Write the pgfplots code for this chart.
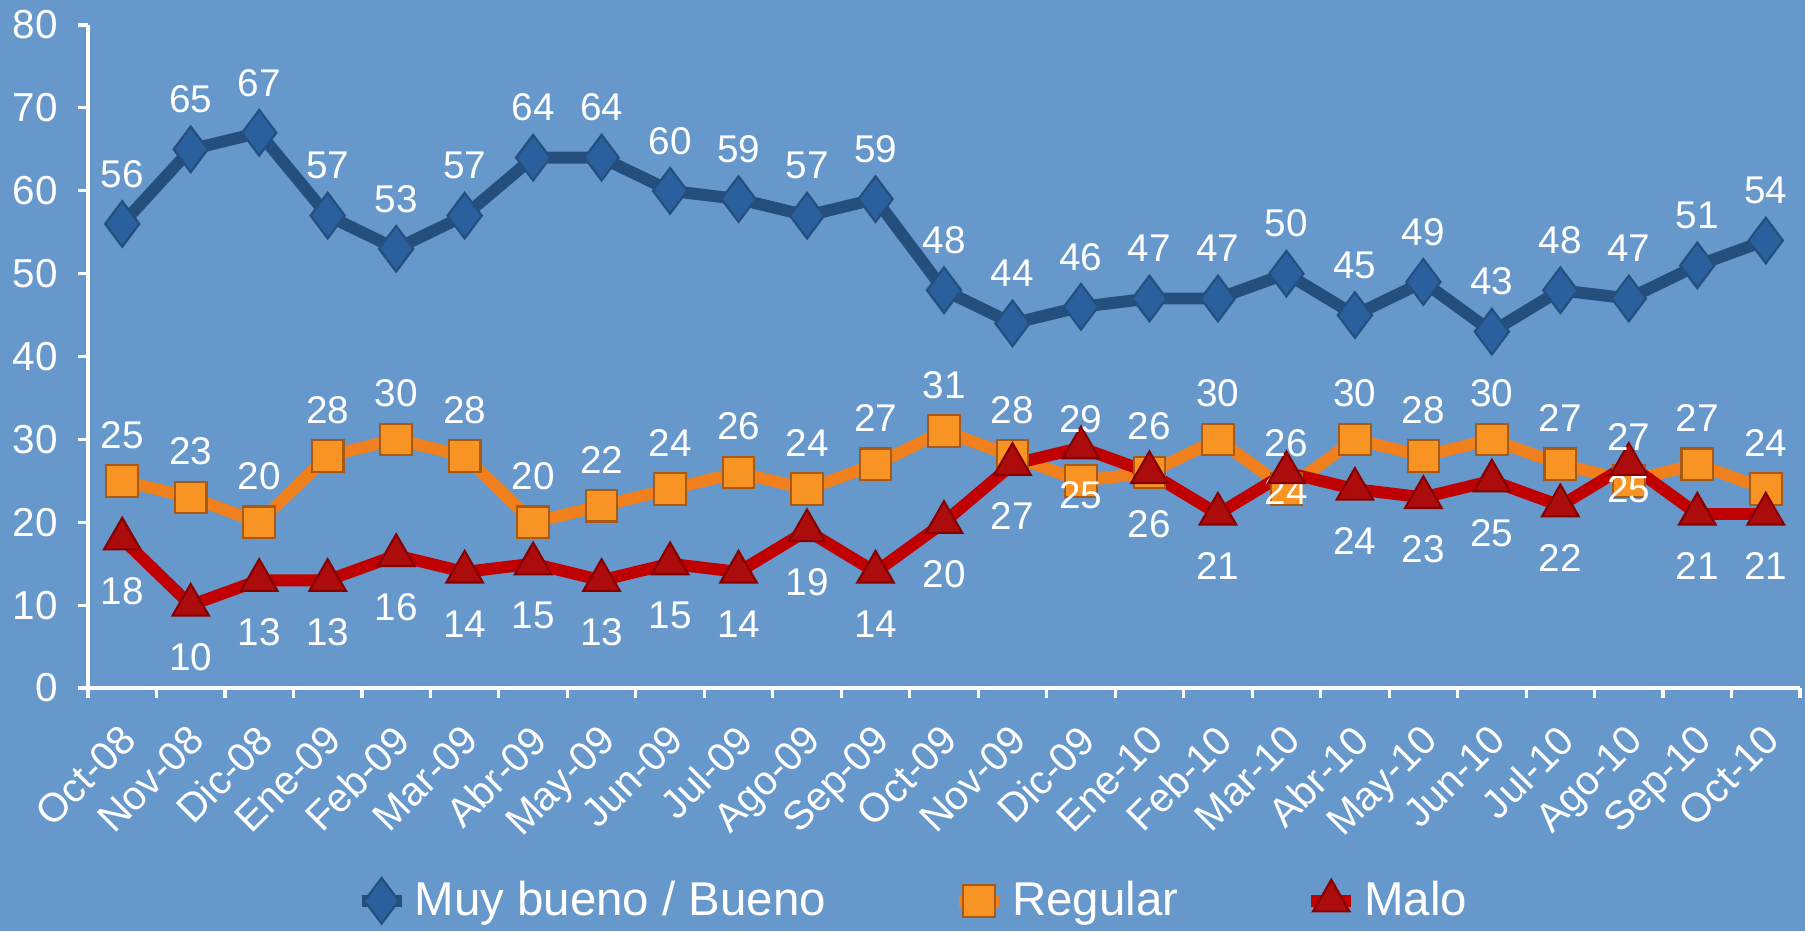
\documentclass[border=0pt]{standalone}
\usepackage{fontspec}
\setmainfont{Liberation Sans}
\usepackage{pgfplots}
\usepackage{pgfplotstable}
\pgfplotsset{compat=1.18}

\definecolor{bg}{RGB}{103,152,203}
\definecolor{bluel}{RGB}{36,79,125}
\definecolor{bluem}{RGB}{42,96,158}
\definecolor{orl}{RGB}{240,128,30}
\definecolor{orm}{RGB}{247,148,36}
\definecolor{redl}{RGB}{192,0,0}
\definecolor{redm}{RGB}{172,12,12}

% dy = label offset from the marker, in px of the reference (1px = 0.1mm)
\pgfplotstableread{
x  mb mbdy reg regdy mal maldy
0  56 50   25  46    18  -52
1  65 50   23  46    10  -52
2  67 50   20  46    13  -52
3  57 50   28  46    13  -52
4  53 50   30  46    16  -52
5  57 50   28  46    14  -52
6  64 50   20  46    15  -52
7  64 50   22  46    13  -52
8  60 50   24  46    15  -52
9  59 50   26  46    14  -52
10 57 50   24  46    19  -52
11 59 50   27  46    14  -52
12 48 50   31  46    20  -52
13 44 50   28  46    27  -52
14 46 50   25  -14   29  28
15 47 50   26  46    26  -52
16 47 50   30  46    21  -52
17 50 50   24  -2    26  29
18 45 50   30  46    24  -52
19 49 50   28  46    23  -52
20 43 50   30  46    25  -52
21 48 50   27  46    22  -52
22 47 50   25  -8    27  27
23 51 50   27  46    21  -52
24 54 50   24  46    21  -52
}\data

\pgfplotsset{
  bluestyle/.style={bluel, line width=3.4pt, mark=diamond*, mark size=6.5pt,
    mark options={fill=bluem, draw=bluel, line width=0.6pt}},
  orstyle/.style={orl, line width=3.4pt, mark=square*, mark size=4.5pt,
    mark options={fill=orm, draw=orl!70!black, line width=0.6pt}},
  redstyle/.style={redl, line width=3.4pt, mark=triangle*, mark size=6pt,
    mark options={fill=redm, draw=redl!70!black, line width=0.6pt}},
}

\begin{document}
\begin{tikzpicture}
\fill[bg] (0,0) rectangle (18.05,9.31);
\begin{axis}[
  at={(0.88cm,2.43cm)}, anchor=south west,
  scale only axis, width=17.12cm, height=6.63cm,
  xmin=-0.5, xmax=24.5, ymin=0, ymax=80,
  clip=false,
  axis lines*=left,
  axis line style={white, line width=0.9pt},
  every tick/.style={white, line width=0.9pt},
  tick align=outside,
  major tick length=0.1cm, minor tick length=0.1cm,
  ytick={0,10,...,80},
  xtick={0,...,24},
  major x tick style={draw=none},
  minor xtick={-0.5,0.5,...,24.5},
  xticklabels={Oct-08,Nov-08,Dic-08,Ene-09,Feb-09,Mar-09,Abr-09,May-09,Jun-09,Jul-09,Ago-09,Sep-09,Oct-09,Nov-09,Dic-09,Ene-10,Feb-10,Mar-10,Abr-10,May-10,Jun-10,Jul-10,Ago-10,Sep-10,Oct-10},
  /pgf/number format/assume math mode=true,
  yticklabel style={font=\fontsize{11.5}{13}\selectfont, text=white, xshift=-0.08cm},
  xticklabel style={font=\fontsize{11.5}{13}\selectfont, text=white, rotate=45, anchor=north east, xshift=-0.08cm, yshift=-0.02cm},
  legend style={at={(0.483,-0.321)}, anchor=center, draw=none, fill=none,
    legend columns=3, text=white, font=\fontsize{13.5}{16}\selectfont,
    /tikz/every even column/.append style={column sep=1.2cm},
    legend cell align=left},
  legend image code/.code={\draw[#1, mark repeat=2, mark phase=2] plot coordinates {(0cm,0cm) (0.2cm,0cm) (0.4cm,0cm)};},
  point meta=explicit,
  nodes near coords={\pgfmathprintnumber{\pgfkeysvalueof{/data point/y}}},
  every node near coord/.append style={anchor=center, text=white,
    font=\fontsize{11}{13}\selectfont},
  every node near coord/.append code={%
    \pgfmathfloattofixed{\pgfplotspointmeta}\edef\dy{\pgfmathresult}%
    \pgfkeysalso{/tikz/yshift=\dy*0.1mm}},
]
\addlegendimage{bluestyle}
\addlegendentry{Muy bueno / Bueno}
\addlegendimage{orstyle}
\addlegendentry{Regular}
\addlegendimage{redstyle}
\addlegendentry{Malo}
\addplot[bluestyle, forget plot] table[x=x, y=mb, meta=mbdy] {\data};
\addplot[orstyle, forget plot] table[x=x, y=reg, meta=regdy] {\data};
\addplot[redstyle, forget plot] table[x=x, y=mal, meta=maldy] {\data};
\end{axis}
\pgfresetboundingbox
\useasboundingbox (0,0) rectangle (18.05,9.31);
\end{tikzpicture}
\end{document}
